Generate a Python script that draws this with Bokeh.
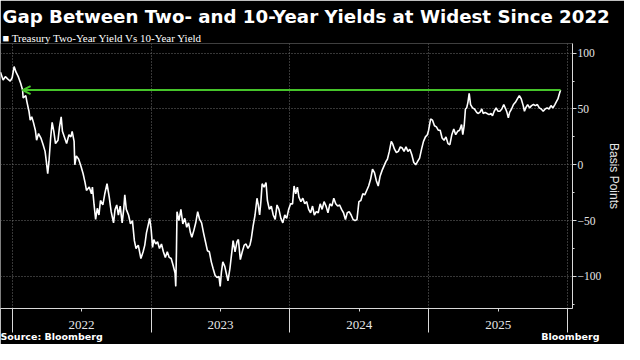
from bokeh.plotting import figure
from bokeh.models import ColumnDataSource, FixedTicker, Range1d, Arrow, OpenHead, Title, LinearAxis
from bokeh.embed import file_html
from bokeh.resources import INLINE

# ---- data (decimal year, basis points) ----
years = [
    2021.916, 2021.935, 2021.951, 2021.967, 2021.986, 2022.000, 2022.014, 2022.028, 2022.044, 2022.061,
    2022.075, 2022.079, 2022.098, 2022.107, 2022.121, 2022.130, 2022.141, 2022.153, 2022.167, 2022.176,
    2022.190, 2022.207, 2022.223, 2022.237, 2022.246, 2022.256, 2022.265, 2022.277, 2022.288, 2022.300,
    2022.312, 2022.330, 2022.341, 2022.353, 2022.362, 2022.376, 2022.392, 2022.409, 2022.423, 2022.432,
    2022.446, 2022.451, 2022.462, 2022.479, 2022.497, 2022.511, 2022.525, 2022.535, 2022.555, 2022.571,
    2022.578, 2022.590, 2022.601, 2022.613, 2022.625, 2022.636, 2022.653, 2022.667, 2022.683, 2022.699,
    2022.713, 2022.730, 2022.741, 2022.753, 2022.765, 2022.778, 2022.792, 2022.804, 2022.811, 2022.822,
    2022.838, 2022.852, 2022.866, 2022.880, 2022.892, 2022.908, 2022.927, 2022.943, 2022.955, 2022.967,
    2022.978, 2022.990, 2023.001, 2023.011, 2023.020, 2023.034, 2023.047, 2023.061, 2023.075, 2023.089,
    2023.103, 2023.117, 2023.131, 2023.145, 2023.159, 2023.173, 2023.178, 2023.183, 2023.187, 2023.201,
    2023.215, 2023.229, 2023.243, 2023.257, 2023.270, 2023.284, 2023.294, 2023.308, 2023.322, 2023.336,
    2023.350, 2023.364, 2023.378, 2023.392, 2023.406, 2023.420, 2023.434, 2023.447, 2023.461, 2023.475,
    2023.489, 2023.498, 2023.507, 2023.517, 2023.531, 2023.545, 2023.554, 2023.568, 2023.582, 2023.591,
    2023.605, 2023.619, 2023.629, 2023.643, 2023.657, 2023.671, 2023.684, 2023.698, 2023.712, 2023.721,
    2023.735, 2023.749, 2023.763, 2023.772, 2023.782, 2023.791, 2023.800, 2023.814, 2023.828, 2023.838,
    2023.852, 2023.866, 2023.880, 2023.894, 2023.907, 2023.921, 2023.935, 2023.949, 2023.963, 2023.977,
    2023.991, 2024.005, 2024.019, 2024.030, 2024.042, 2024.054, 2024.065, 2024.079, 2024.093, 2024.107,
    2024.121, 2024.135, 2024.149, 2024.163, 2024.176, 2024.190, 2024.204, 2024.218, 2024.232, 2024.246,
    2024.260, 2024.274, 2024.288, 2024.302, 2024.316, 2024.330, 2024.344, 2024.358, 2024.372, 2024.386,
    2024.400, 2024.413, 2024.427, 2024.441, 2024.455, 2024.469, 2024.483, 2024.497, 2024.511, 2024.525,
    2024.539, 2024.553, 2024.567, 2024.581, 2024.595, 2024.609, 2024.622, 2024.636, 2024.650, 2024.664,
    2024.678, 2024.692, 2024.702, 2024.716, 2024.730, 2024.739, 2024.753, 2024.767, 2024.781, 2024.795,
    2024.809, 2024.822, 2024.836, 2024.850, 2024.864, 2024.878, 2024.892, 2024.906, 2024.920, 2024.934,
    2024.948, 2024.962, 2024.976, 2024.990, 2024.999, 2025.013, 2025.027, 2025.041, 2025.055, 2025.068,
    2025.082, 2025.096, 2025.110, 2025.124, 2025.138, 2025.152, 2025.166, 2025.180, 2025.194, 2025.208,
    2025.222, 2025.236, 2025.245, 2025.255, 2025.264, 2025.273, 2025.282, 2025.291, 2025.301, 2025.315,
    2025.329, 2025.345, 2025.354, 2025.368, 2025.382, 2025.392, 2025.406, 2025.420, 2025.434, 2025.448,
    2025.459, 2025.471, 2025.485, 2025.498, 2025.512, 2025.526, 2025.540, 2025.554, 2025.563, 2025.573,
    2025.582, 2025.596, 2025.610, 2025.624, 2025.638, 2025.652, 2025.666, 2025.680, 2025.689, 2025.698,
    2025.712, 2025.726, 2025.740, 2025.754, 2025.768, 2025.782, 2025.796, 2025.810, 2025.824, 2025.838,
    2025.852, 2025.866, 2025.880, 2025.894, 2025.908, 2025.921, 2025.930, 2025.939, 2025.949,
]
spread_bp = [
    83, 76, 79, 77, 75, 78, 88, 83, 79, 73,
    67, 60, 62, 56, 48, 40, 43, 38, 31, 22,
    28, 24, 18, 12, 3, -8, 3, 24, 38, 30,
    19, 22, 34, 43, 30, 25, 19, 27, 25, 30,
    21, 0, 8, 5, -2, -8, -16, -23, -20, -26,
    -20, -36, -49, -39, -45, -32, -36, -26, -17, -29,
    -42, -52, -40, -36, -45, -37, -52, -39, -27, -40,
    -45, -53, -50, -68, -75, -72, -84, -78, -72, -61,
    -55, -48, -58, -74, -67, -71, -69, -75, -71, -78,
    -83, -78, -83, -84, -90, -97, -109, -78, -42, -50,
    -40, -53, -48, -56, -52, -61, -65, -59, -52, -42,
    -49, -52, -61, -69, -77, -78, -87, -93, -99, -101,
    -100, -109, -96, -87, -91, -99, -104, -93, -78, -68,
    -78, -69, -67, -85, -78, -72, -71, -75, -72, -67,
    -55, -45, -30, -36, -45, -33, -17, -20, -16, -32,
    -40, -37, -45, -49, -36, -40, -48, -52, -45, -48,
    -40, -35, -35, -19, -26, -20, -29, -33, -30, -35,
    -33, -40, -43, -37, -45, -42, -43, -35, -40, -33,
    -37, -43, -35, -37, -30, -35, -37, -36, -40, -43,
    -49, -43, -42, -45, -49, -50, -49, -33, -32, -26,
    -27, -23, -19, -13, -4, -7, -14, -19, -10, -5,
    -1, 3, 5, 12, 21, 19, 14, 11, 12, 16,
    15, 12, 16, 12, 14, 9, 2, 0, 3, 6,
    14, 21, 25, 27, 31, 41, 40, 35, 34, 31,
    31, 24, 22, 25, 19, 18, 27, 32, 27, 30,
    31, 36, 27, 35, 50, 51, 56, 64, 54, 51,
    50, 47, 46, 47, 50, 46, 47, 46, 45, 46,
    44, 48, 51, 48, 48, 50, 54, 50, 47, 42,
    47, 50, 54, 56, 59, 62, 59, 53, 48, 51,
    54, 51, 53, 54, 53, 54, 51, 50, 48, 50,
    51, 50, 53, 51, 54, 57, 59, 63, 67,
]
assert len(years) == len(spread_bp)

year_bounds = [2022, 2023, 2024, 2025, 2026]
year_mids = [2022.5, 2023.5, 2024.5, 2025.5]
year_labels = ["2022", "2023", "2024", "2025"]
y_major = [-100, -50, 0, 50, 100]
y_minor = [-125, -75, -25, 25, 75]

title_text = "Gap Between Two- and 10-Year Yields at Widest Since 2022"
legend_text = "■ Treasury Two-Year Yield Vs 10-Year Yield"
source_text = "Source: Bloomberg"
brand_text = "Bloomberg"
footer_at = [2022.27, 2026.02]   # where the footer texts are centred along the x range
y_label = "Basis Points"

GREEN = "#46c52a"
AXIS = "#d9d9d9"
GRID = "#6e6e6e"
TXT = "#e6e6e6"
NARROW = "Liberation Sans Narrow"

p = figure(width=624, height=344, output_backend="svg", toolbar_location=None, title=None,
           x_range=Range1d(2021.916, 2026.035), y_range=Range1d(-128.8, 108.7),
           y_axis_location="right",
           min_border_left=0, min_border_right=40, min_border_top=0, min_border_bottom=0,
           background_fill_color="black", border_fill_color="black", outline_line_color=None)

# header (inner first, outer last)
p.add_layout(Title(text=legend_text, align="left", offset=2, standoff=0,
                   text_color="white", text_font=NARROW, text_font_size="11px",
                   text_font_style="normal"), "above")
p.add_layout(Title(text=title_text, align="left", offset=2, standoff=6,
                   text_color="white", text_font="DejaVu Sans", text_font_size="18.2px",
                   text_font_style="bold"), "above")

# grids
p.xgrid.ticker = FixedTicker(ticks=year_bounds)
p.ygrid.ticker = FixedTicker(ticks=y_major)
for g in (p.xgrid, p.ygrid):
    g.grid_line_color = GRID
    g.grid_line_dash = "1 2"
    g.grid_line_width = 1

# x axis: labels centred in each year, long ticks at year boundaries
xa = p.xaxis[0]
xa.ticker = FixedTicker(ticks=year_mids, minor_ticks=year_bounds)
xa.major_label_overrides = {m: lab for m, lab in zip(year_mids, year_labels)}
xa.axis_line_color = AXIS
xa.major_tick_line_color = AXIS
xa.minor_tick_line_color = AXIS
xa.major_tick_in = 0
xa.major_tick_out = 3
xa.minor_tick_in = 0
xa.minor_tick_out = 24
xa.major_label_standoff = -12
xa.major_label_text_color = TXT
xa.major_label_text_font = NARROW
xa.major_label_text_font_size = "13px"

# footer line: source on the left, brand on the right
fa = LinearAxis(ticker=FixedTicker(ticks=footer_at, minor_ticks=[]),
                major_label_overrides={footer_at[0]: source_text, footer_at[1]: brand_text})
fa.axis_line_color = None
fa.major_tick_line_color = None
fa.minor_tick_line_color = None
fa.major_tick_out = 0
fa.major_tick_in = 0
fa.major_label_standoff = -1
fa.major_label_text_color = "white"
fa.major_label_text_font = "DejaVu Sans"
fa.major_label_text_font_style = "bold"
fa.major_label_text_font_size = "9.5px"
p.add_layout(fa, "below")

# y axis (right)
ya = p.yaxis[0]
ya.ticker = FixedTicker(ticks=y_major, minor_ticks=y_minor)
ya.axis_line_color = AXIS
ya.major_tick_line_color = AXIS
ya.minor_tick_line_color = AXIS
ya.major_tick_in = 0
ya.major_tick_out = 4
ya.minor_tick_in = 0
ya.minor_tick_out = 2
ya.major_label_standoff = 1
ya.major_label_text_color = TXT
ya.major_label_text_font = NARROW
ya.major_label_text_font_size = "11.5px"
ya.axis_label = y_label
ya.axis_label_text_color = TXT
ya.axis_label_text_font = "Liberation Sans"
ya.axis_label_text_font_style = "normal"
ya.axis_label_text_font_size = "12px"
ya.axis_label_standoff = 3

src = ColumnDataSource(dict(year=years, bp=spread_bp))
p.line(x="year", y="bp", source=src, line_color="white", line_width=1.6)

# green arrow from the latest value back to the last time the spread was this wide
latest = spread_bp[-1]
match_year = next(y for y, v in zip(years, spread_bp) if v <= latest)
p.add_layout(Arrow(end=OpenHead(size=8, line_color=GREEN, line_width=2),
                   x_start=years[-1], y_start=latest, x_end=match_year, y_end=latest,
                   line_color=GREEN, line_width=2))

open("out.html", "w").write(file_html(p, INLINE))
